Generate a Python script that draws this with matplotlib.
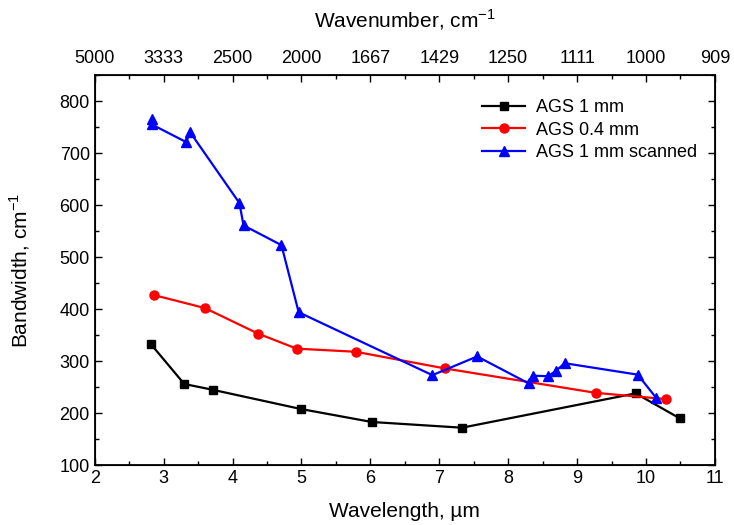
import matplotlib as mpl

mpl.use("Agg")

import matplotlib.pyplot as plt
from matplotlib.ticker import MultipleLocator

plt.rcParams["font.family"] = ["Liberation Sans", "DejaVu Sans"]
plt.rcParams["mathtext.fontset"] = "custom"
plt.rcParams["mathtext.rm"] = "Liberation Sans"

# AGS 1 mm
x_1mm = [2.82, 3.30, 3.71, 4.99, 6.02, 7.33, 9.85, 10.49]
y_1mm = [332, 256, 245, 208, 183, 172, 238, 190]

# AGS 0.4 mm
x_04mm = [2.86, 3.60, 4.37, 4.93, 5.79, 7.08, 9.27, 10.29]
y_04mm = [427, 402, 353, 324, 318, 286, 239, 227]

# AGS 1 mm scanned
x_scan = [2.83, 2.83, 3.33, 3.38, 4.10, 4.16, 4.71, 4.96, 6.90, 7.55,
          8.30, 8.36, 8.58, 8.69, 8.82, 9.88, 10.15]
y_scan = [765, 755, 721, 741, 604, 561, 523, 394, 273, 309,
          257, 272, 271, 281, 296, 274, 229]

wl_ticks = [2, 3, 4, 5, 6, 7, 8, 9, 10, 11]
wn_labels = ["5000", "3333", "2500", "2000", "1667", "1429", "1250", "1111", "1000", "909"]

fig = plt.figure(figsize=(7.34, 5.25), dpi=100)
ax = fig.add_axes([0.129, 0.114, 0.845, 0.743])

ax.plot(x_1mm, y_1mm, color="black", marker="s", markersize=5.5, linewidth=1.6,
        label="AGS 1 mm")
ax.plot(x_04mm, y_04mm, color="#FF0000", marker="o", markersize=6.5, linewidth=1.6,
        label="AGS 0.4 mm")
ax.plot(x_scan, y_scan, color="#0000FF", marker="^", markersize=7, linewidth=1.6,
        label="AGS 1 mm scanned")

ax.set_xlim(2, 11)
ax.set_ylim(100, 850)
ax.set_xticks(wl_ticks)
ax.xaxis.set_minor_locator(MultipleLocator(0.5))
ax.set_yticks(range(100, 801, 100))
ax.yaxis.set_minor_locator(MultipleLocator(50))
ax.tick_params(which="both", direction="in", right=True, labelsize=13, width=1)
ax.tick_params(which="major", length=5)
ax.tick_params(which="minor", length=3)
for spine in ax.spines.values():
    spine.set_linewidth(1.3)

ax.set_xlabel("Wavelength, µm", fontsize=15, labelpad=11)
ax.set_ylabel("Bandwidth, cm$^{-1}$", fontsize=15, labelpad=20)

top = ax.twiny()
top.set_xlim(ax.get_xlim())
top.set_xticks(wl_ticks, wn_labels)
top.xaxis.set_minor_locator(MultipleLocator(0.5))
top.tick_params(which="both", direction="in", labelsize=13, width=1, pad=6)
top.tick_params(which="major", length=5)
top.tick_params(which="minor", length=3)
top.set_xlabel("Wavenumber, cm$^{-1}$", fontsize=15, labelpad=16)

ax.legend(loc="upper right", bbox_to_anchor=(0.998, 0.98), frameon=False,
          fontsize=13, handlelength=2.4, handletextpad=0.6, labelspacing=0.3)

fig.savefig("out.png", dpi=100)
